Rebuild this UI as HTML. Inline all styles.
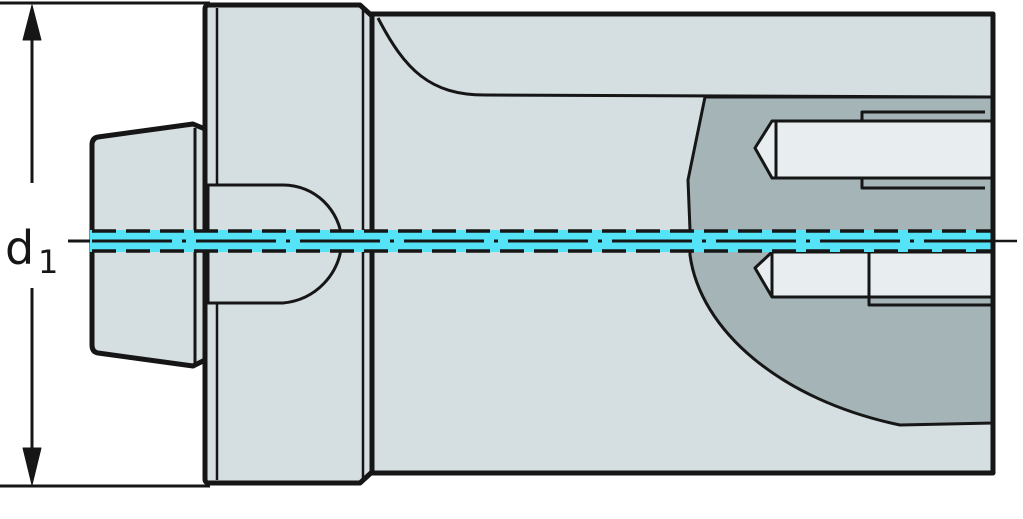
<!DOCTYPE html>
<html><head><style>body{margin:0;background:#fff}svg{display:block}</style></head><body>
<svg width="1023" height="519" viewBox="0 0 1023 519" xmlns="http://www.w3.org/2000/svg">
<g stroke="#161616" fill="none" stroke-linejoin="round">
<line x1="0" y1="3" x2="210" y2="3" stroke-width="3"/>
<line x1="0" y1="486" x2="210" y2="486" stroke-width="3"/>
<line x1="32" y1="30" x2="32" y2="183" stroke-width="3"/>
<line x1="32" y1="288" x2="32" y2="460" stroke-width="3"/>
<polygon points="32,5 23,40 41,40" fill="#161616"/>
<polygon points="32,485 23,448 41,448" fill="#161616"/>
<line x1="68" y1="241" x2="92" y2="241" stroke-width="3"/>
<polygon points="370,14 993,14 993,473 370,473" fill="#d5dee0" stroke-width="5"/>
<path d="M378,18 C405,70 430,95 485,95 L993,97" stroke-width="3"/>
<path d="M705,97 L993,97 L993,423 L900,425 C780,400 700,330 690,255 L690,230 L688,180 Z" fill="#a4b4b7" stroke-width="3"/>
<path d="M772,121 L993,121 L993,178 L772,178 L755,148 Z" fill="#e8eeef" stroke-width="3"/>
<line x1="776" y1="121" x2="776" y2="178" stroke-width="3"/>
<path d="M862,121 L862,112 L985,112 M862,178 L862,188 L985,188" stroke-width="3"/>
<path d="M772,252 L993,252 L993,297 L772,297 L755,268 Z" fill="#e8eeef" stroke-width="3"/>
<line x1="772" y1="252" x2="772" y2="297" stroke-width="3"/>
<path d="M869,252 L869,305 L993,305" stroke-width="3"/>
<path d="M209,5 L360,5 L372,16 L372,472 L360,483 L209,483 Q205,483 205,479 L205,9 Q205,5 209,5 Z" fill="#d5dee0" stroke-width="5"/>
<line x1="217" y1="8" x2="217" y2="480" stroke-width="2.5"/>
<line x1="363" y1="8" x2="363" y2="480" stroke-width="2.5"/>
<path d="M208,185 L283,185 C315,185 340,210 342,241 C340,275 315,300 283,303 L208,303 Z" fill="#d5dee0" stroke-width="3"/>
<path d="M98,137 L193,124 L205,129 L205,360 L193,366 L98,353 Q92,352 92,345 L92,145 Q92,138 98,137 Z" fill="#d5dee0" stroke-width="5"/>
<line x1="195" y1="128" x2="195" y2="364" stroke-width="3"/>
</g>
<rect x="90" y="230" width="903" height="22" fill="#55e3f8"/>
<g stroke="#161616" stroke-width="3.5">
<line x1="92" y1="231" x2="993" y2="231" stroke-dasharray="24,10"/>
<line x1="92" y1="251" x2="993" y2="251" stroke-dasharray="24,10"/>
<line x1="92" y1="241" x2="993" y2="241" stroke-dasharray="80,10,4,10" stroke-width="3"/>
<line x1="990" y1="241" x2="1017" y2="241" stroke-width="2.5"/>
<line x1="993" y1="14" x2="993" y2="473" stroke-width="5"/>
</g>
<text x="5" y="264" font-family="DejaVu Sans, sans-serif" font-size="46" fill="#161616">d</text>
<text x="38" y="273" font-family="DejaVu Sans, sans-serif" font-size="32" fill="#161616">1</text>
</svg>
</body></html>
